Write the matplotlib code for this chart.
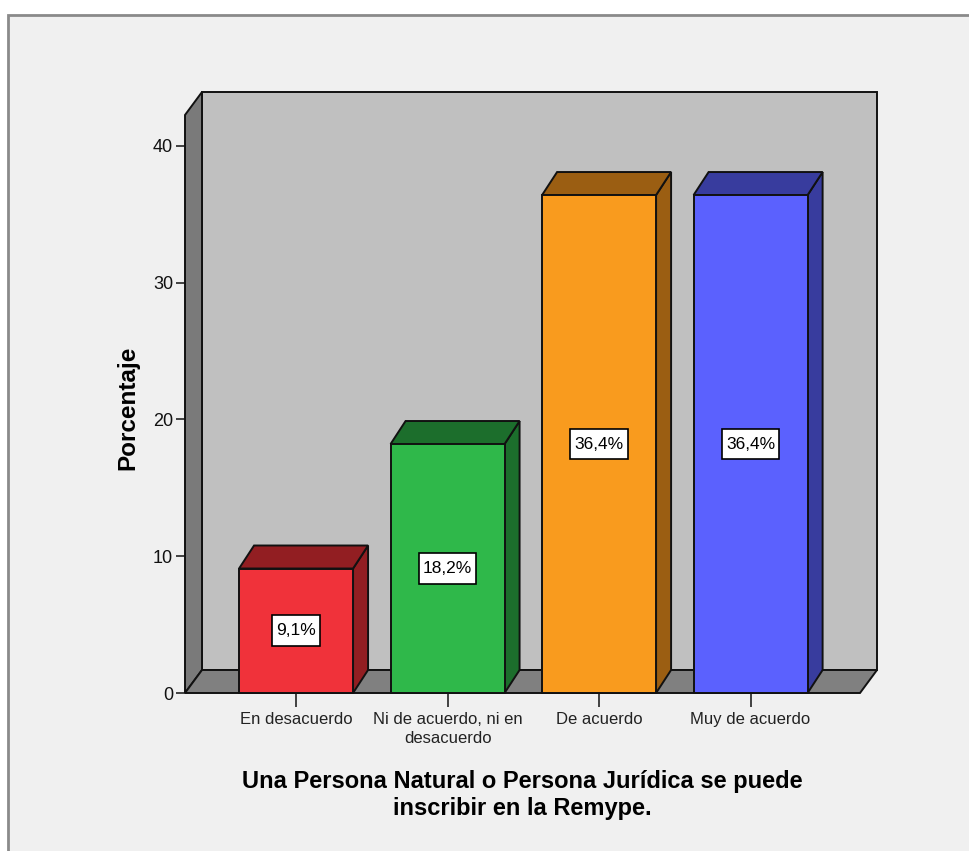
import matplotlib
matplotlib.use('Agg')
import matplotlib.pyplot as plt
from matplotlib.patches import Polygon, Rectangle
from matplotlib.path import Path

# ---- data ----
categories = ['En desacuerdo', 'Ni de acuerdo, ni en\ndesacuerdo', 'De acuerdo', 'Muy de acuerdo']
percentages = [9.1, 18.2, 36.4, 36.4]
value_labels = ['9,1%', '18,2%', '36,4%', '36,4%']
yticks = [0, 10, 20, 30, 40]
front_colors = ['#f0323a', '#2fb84a', '#f99b1e', '#5b61fe']
side_colors = ['#921e22', '#1c6e2c', '#9b5e12', '#383c9e']
x_title = 'Una Persona Natural o Persona Jurídica se puede\ninscribir en la Remype.'
y_title = 'Porcentaje'

plt.rcParams['font.family'] = ['Liberation Sans', 'DejaVu Sans']

W, H = 969, 851
fig = plt.figure(figsize=(W / 100, H / 100), dpi=100)
fig.patch.set_facecolor('white')

# outer panel frame
fig.patches.append(Rectangle((8 / W, -0.1), 1.2, (H - 15) / H + 0.1,
                             transform=fig.transFigure, facecolor='#f0f0f0',
                             edgecolor='#8a8a8a', linewidth=2, zorder=-10))

# front plotting area in pixels
left_px, right_px, bottom_px, top_px = 185, 860, 693, 115
ax = fig.add_axes([left_px / W, (H - bottom_px) / H,
                   (right_px - left_px) / W, (bottom_px - top_px) / H])
ax.set_zorder(1)
xmin, xmax = -0.733, 3.722
ymin, ymax = 0, 42.25
ax.set_xlim(xmin, xmax)
ax.set_ylim(ymin, ymax)
ax.patch.set_visible(False)
for s in ax.spines.values():
    s.set_visible(False)

xpp = (xmax - xmin) / (right_px - left_px)   # data per pixel (x)
ypp = (ymax - ymin) / (bottom_px - top_px)   # data per pixel (y)
dxw, dyw = 17 * xpp, 23 * ypp   # wall depth
dxb, dyb = 15 * xpp, 23 * ypp   # bar depth
bw = 114 * xpp                   # bar width

ec = '#111111'
lw = 1.4
# back wall
ax.add_patch(Polygon([(xmin + dxw, dyw), (xmax + dxw, dyw), (xmax + dxw, ymax + dyw),
                      (xmin + dxw, ymax + dyw)], closed=True, facecolor='#c0c0c0',
                     edgecolor=ec, linewidth=lw, clip_on=False, zorder=1))
# left wall
ax.add_patch(Polygon([(xmin, 0), (xmin, ymax), (xmin + dxw, ymax + dyw), (xmin + dxw, dyw)],
                     closed=True, facecolor='#7a7a7a', edgecolor=ec, linewidth=lw,
                     clip_on=False, zorder=2))
# floor
ax.add_patch(Polygon([(xmin, 0), (xmax, 0), (xmax + dxw, dyw), (xmin + dxw, dyw)],
                     closed=True, facecolor='#808080', edgecolor=ec, linewidth=lw,
                     clip_on=False, zorder=2))


def label_box(x0, y0, width, height, mutation_size):
    px, py = 0.24 * mutation_size, 0.45 * mutation_size
    return Path([(x0 - px, y0 - py), (x0 + width + px, y0 - py),
                 (x0 + width + px, y0 + height + py), (x0 - px, y0 + height + py),
                 (x0 - px, y0 - py)], closed=True)


# bars
for i, (v, fc, sc, lab) in enumerate(zip(percentages, front_colors, side_colors, value_labels)):
    x0, x1 = i - bw / 2, i + bw / 2
    ax.add_patch(Polygon([(x1, 0), (x1, v), (x1 + dxb, v + dyb), (x1 + dxb, dyb)], closed=True,
                         facecolor=sc, edgecolor=ec, linewidth=lw, clip_on=False, zorder=3))
    ax.add_patch(Polygon([(x0, v), (x1, v), (x1 + dxb, v + dyb), (x0 + dxb, v + dyb)], closed=True,
                         facecolor=sc, edgecolor=ec, linewidth=lw, clip_on=False, zorder=3))
    ax.add_patch(Rectangle((x0, 0), bw, v, facecolor=fc, edgecolor=ec, linewidth=lw,
                           clip_on=False, zorder=4))
    ax.text(i, v / 2, lab, ha='center', va='center', fontsize=12.5, color='black', zorder=6,
            bbox=dict(boxstyle=label_box, facecolor='white', edgecolor='black', linewidth=1.2))

# axes ticks
ax.set_yticks(yticks)
ax.set_yticklabels([str(t) for t in yticks])
ax.tick_params(axis='y', direction='out', length=6.5, width=1.3, color='#333333',
               labelsize=13, pad=2, labelcolor='#111111')
ax.set_xticks(range(len(categories)))
ax.set_xticklabels(categories, linespacing=1.3)
ax.tick_params(axis='x', direction='out', length=10, width=1.3, color='#333333',
               labelsize=12, pad=4, labelcolor='#222222')

fig.text(522 / W, (H - 770) / H, x_title, ha='center', va='top', fontsize=17,
         fontweight='bold', linespacing=1.2, color='black')
fig.text(128 / W, (H - 408) / H, y_title, ha='center', va='center', rotation=90,
         fontsize=17.5, fontweight='bold', color='black')

fig.savefig('out.png', dpi=100, facecolor=fig.get_facecolor())
